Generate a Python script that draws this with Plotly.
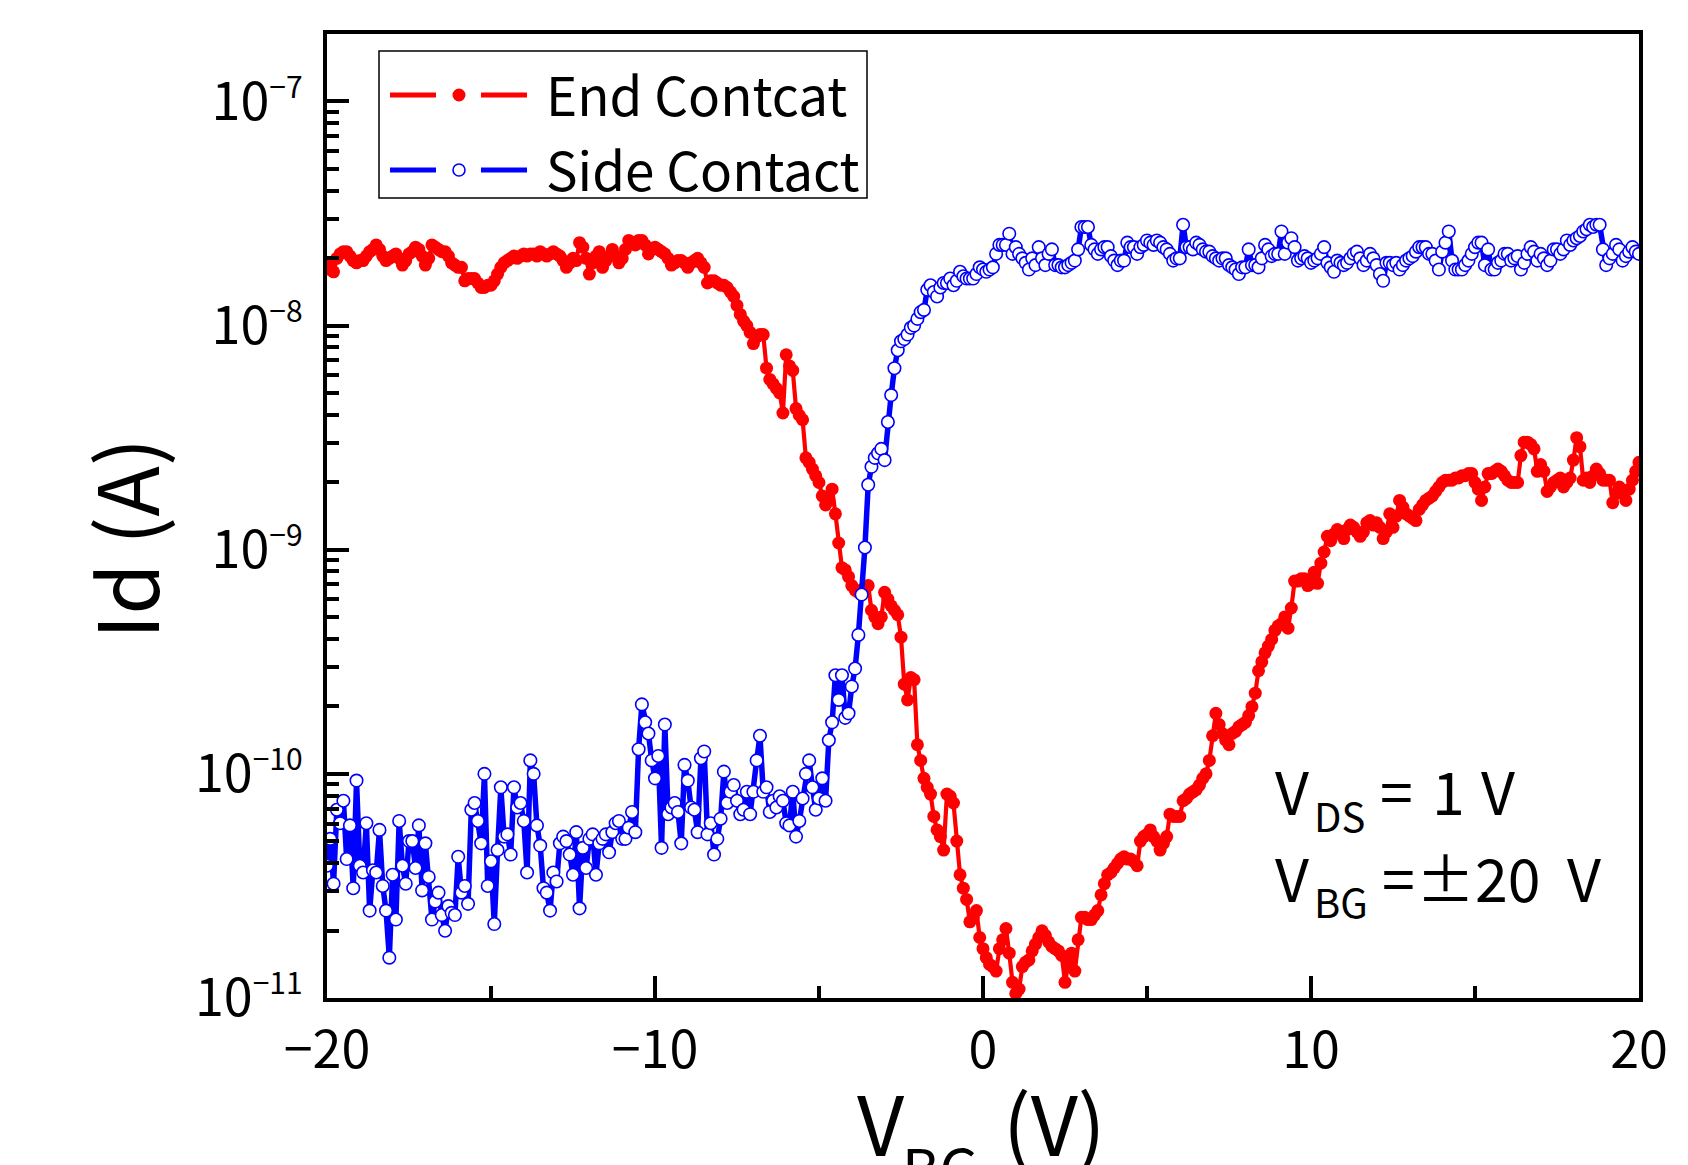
import numpy as np
import plotly.graph_objects as go

# Gate voltage sweep (V), 0.1 V step
vbg = np.round(np.linspace(-20, 20, 401), 1)

# log10(Id / A), one row per volt
end_log10 = [
    -7.72, -7.75, -7.76, -7.70, -7.68, -7.67, -7.67, -7.69, -7.71, -7.72,
    -7.71, -7.71, -7.69, -7.67, -7.66, -7.64, -7.66, -7.69, -7.71, -7.70,
    -7.69, -7.68, -7.70, -7.73, -7.71, -7.68, -7.67, -7.65, -7.66, -7.69,
    -7.73, -7.70, -7.64, -7.65, -7.66, -7.67, -7.67, -7.69, -7.72, -7.73,
    -7.74, -7.74, -7.80, -7.79, -7.79, -7.79, -7.81, -7.83, -7.83, -7.82,
    -7.82, -7.80, -7.77, -7.74, -7.72, -7.71, -7.70, -7.69, -7.70, -7.69,
    -7.68, -7.69, -7.68, -7.68, -7.69, -7.67, -7.68, -7.69, -7.68, -7.67,
    -7.68, -7.69, -7.71, -7.74, -7.72, -7.70, -7.71, -7.63, -7.65, -7.70,
    -7.77, -7.72, -7.69, -7.67, -7.74, -7.71, -7.69, -7.66, -7.69, -7.72,
    -7.70, -7.66, -7.62, -7.63, -7.64, -7.62, -7.62, -7.64, -7.68, -7.66,
    -7.65, -7.66, -7.67, -7.68, -7.70, -7.73, -7.72, -7.71, -7.71, -7.72,
    -7.74, -7.72, -7.71, -7.70, -7.72, -7.74, -7.81, -7.80, -7.80, -7.81,
    -7.82, -7.82, -7.83, -7.85, -7.87, -7.91, -7.95, -7.98, -8.00, -8.03,
    -8.08, -8.05, -8.04, -8.04, -8.19, -8.24, -8.26, -8.28, -8.30, -8.39,
    -8.13, -8.18, -8.20, -8.37, -8.40, -8.42, -8.59, -8.61, -8.64, -8.67,
    -8.70, -8.76, -8.80, -8.78, -8.73, -8.84, -8.97, -9.08, -9.09, -9.12,
    -9.16, -9.18, -9.19, -9.18, -9.17, -9.16, -9.27, -9.30, -9.33, -9.30,
    -9.19, -9.22, -9.25, -9.27, -9.29, -9.39, -9.60, -9.67, -9.57, -9.58,
    -9.87, -9.94, -10.02, -10.06, -10.09, -10.19, -10.25, -10.28, -10.34, -10.09,
    -10.10, -10.13, -10.30, -10.45, -10.51, -10.56, -10.66, -10.64, -10.61, -10.73,
    -10.78, -10.82, -10.85, -10.86, -10.88, -10.78, -10.74, -10.69, -10.80, -10.93,
    -10.98, -10.96, -10.86, -10.84, -10.83, -10.79, -10.76, -10.73, -10.70, -10.72,
    -10.75, -10.77, -10.78, -10.79, -10.81, -10.93, -10.85, -10.80, -10.88, -10.74,
    -10.64, -10.64, -10.65, -10.65, -10.63, -10.61, -10.54, -10.49, -10.45, -10.44,
    -10.42, -10.40, -10.38, -10.37, -10.38, -10.38, -10.39, -10.41, -10.30, -10.28,
    -10.27, -10.25, -10.28, -10.30, -10.34, -10.31, -10.28, -10.18, -10.19, -10.19,
    -10.19, -10.12, -10.11, -10.09, -10.08, -10.07, -10.05, -10.02, -10.00, -9.94,
    -9.83, -9.73, -9.78, -9.82, -9.85, -9.87, -9.82, -9.81, -9.79, -9.78,
    -9.77, -9.74, -9.70, -9.64, -9.54, -9.50, -9.46, -9.43, -9.40, -9.36,
    -9.34, -9.33, -9.30, -9.35, -9.26, -9.14, -9.14, -9.13, -9.13, -9.16,
    -9.15, -9.10, -9.15, -9.06, -9.01, -8.94, -8.96, -8.93, -8.91, -8.92,
    -8.95, -8.91, -8.89, -8.90, -8.92, -8.94, -8.92, -8.88, -8.87, -8.89,
    -8.88, -8.90, -8.95, -8.92, -8.84, -8.90, -8.85, -8.78, -8.81, -8.84,
    -8.85, -8.86, -8.87, -8.82, -8.80, -8.78, -8.77, -8.76, -8.74, -8.72,
    -8.70, -8.69, -8.69, -8.69, -8.68, -8.68, -8.67, -8.67, -8.66, -8.66,
    -8.70, -8.73, -8.78, -8.72, -8.66, -8.66, -8.65, -8.64, -8.65, -8.67,
    -8.69, -8.70, -8.70, -8.70, -8.58, -8.52, -8.52, -8.53, -8.55, -8.65,
    -8.62, -8.65, -8.74, -8.72, -8.70, -8.69, -8.68, -8.72, -8.70, -8.68,
    -8.60, -8.50, -8.54, -8.69, -8.68, -8.70, -8.67, -8.64, -8.66, -8.69,
    -8.69, -8.69, -8.79, -8.75, -8.72, -8.74, -8.78, -8.73, -8.69, -8.65,
    -8.61,
]

side_log10 = [
    -10.41, -10.29, -10.49, -10.16, -10.22, -10.12, -10.38, -10.23, -10.51, -10.03,
    -10.41, -10.44, -10.22, -10.61, -10.43, -10.44, -10.25, -10.50, -10.61, -10.82,
    -10.45, -10.65, -10.21, -10.41, -10.49, -10.30, -10.30, -10.42, -10.23, -10.52,
    -10.31, -10.46, -10.65, -10.57, -10.53, -10.63, -10.70, -10.59, -10.62, -10.63,
    -10.37, -10.53, -10.50, -10.58, -10.16, -10.13, -10.21, -10.31, -10.00, -10.50,
    -10.39, -10.67, -10.34, -10.06, -10.28, -10.27, -10.36, -10.06, -10.15, -10.13,
    -10.21, -10.44, -9.94, -10.00, -10.23, -10.32, -10.51, -10.53, -10.61, -10.44,
    -10.48, -10.31, -10.28, -10.30, -10.36, -10.45, -10.26, -10.60, -10.33, -10.42,
    -10.29, -10.27, -10.45, -10.31, -10.29, -10.27, -10.35, -10.26, -10.22, -10.21,
    -10.29, -10.29, -10.24, -10.17, -10.26, -9.89, -9.69, -9.77, -9.82, -9.94,
    -10.02, -9.92, -10.33, -9.78, -10.18, -10.15, -10.13, -10.17, -10.31, -9.96,
    -10.03, -10.15, -10.16, -10.26, -9.93, -9.90, -10.27, -10.22, -10.36, -10.29,
    -10.20, -9.99, -10.13, -10.08, -10.05, -10.12, -10.18, -10.16, -10.08, -10.18,
    -10.08, -9.94, -9.83, -10.08, -10.06, -10.17, -10.12, -10.15, -10.10, -10.12,
    -10.22, -10.23, -10.08, -10.28, -10.21, -10.11, -10.00, -9.94, -10.06, -10.16,
    -10.11, -10.02, -10.12, -9.85, -9.77, -9.56, -9.67, -9.56, -9.75, -9.73,
    -9.61, -9.53, -9.38, -9.20, -8.99, -8.71, -8.63, -8.59, -8.57, -8.55,
    -8.60, -8.43, -8.31, -8.19, -8.11, -8.07, -8.06, -8.04, -8.01, -8.00,
    -7.97, -7.94, -7.93, -7.84, -7.82, -7.85, -7.87, -7.83, -7.81, -7.81,
    -7.79, -7.82, -7.80, -7.76, -7.78, -7.79, -7.79, -7.79, -7.77, -7.74,
    -7.75, -7.76, -7.75, -7.74, -7.68, -7.64, -7.64, -7.64, -7.59, -7.68,
    -7.65, -7.68, -7.70, -7.72, -7.75, -7.70, -7.73, -7.65, -7.70, -7.73,
    -7.68, -7.66, -7.73, -7.73, -7.74, -7.74, -7.73, -7.72, -7.71, -7.66,
    -7.56, -7.56, -7.56, -7.64, -7.66, -7.68, -7.66, -7.65, -7.65, -7.69,
    -7.71, -7.73, -7.71, -7.71, -7.63, -7.65, -7.65, -7.68, -7.65, -7.64,
    -7.62, -7.63, -7.64, -7.62, -7.63, -7.65, -7.66, -7.68, -7.71, -7.70,
    -7.70, -7.55, -7.65, -7.65, -7.66, -7.63, -7.64, -7.66, -7.67, -7.67,
    -7.69, -7.70, -7.71, -7.70, -7.70, -7.73, -7.74, -7.75, -7.77, -7.74,
    -7.74, -7.66, -7.73, -7.73, -7.74, -7.70, -7.64, -7.66, -7.69, -7.68,
    -7.68, -7.58, -7.68, -7.63, -7.61, -7.65, -7.71, -7.70, -7.69, -7.70,
    -7.72, -7.71, -7.70, -7.68, -7.65, -7.72, -7.74, -7.76, -7.71, -7.72,
    -7.73, -7.72, -7.70, -7.68, -7.67, -7.70, -7.73, -7.71, -7.68, -7.70,
    -7.73, -7.77, -7.80, -7.72, -7.72, -7.73, -7.72, -7.75, -7.73, -7.71,
    -7.70, -7.69, -7.67, -7.65, -7.65, -7.65, -7.68, -7.68, -7.71, -7.75,
    -7.67, -7.63, -7.58, -7.71, -7.75, -7.75, -7.75, -7.73, -7.71, -7.68,
    -7.65, -7.63, -7.63, -7.73, -7.66, -7.75, -7.75, -7.72, -7.71, -7.68,
    -7.68, -7.71, -7.70, -7.69, -7.75, -7.72, -7.68, -7.65, -7.67, -7.71,
    -7.68, -7.70, -7.73, -7.71, -7.66, -7.66, -7.68, -7.66, -7.62, -7.64,
    -7.62, -7.61, -7.60, -7.58, -7.57, -7.55, -7.56, -7.55, -7.55, -7.66,
    -7.73, -7.70, -7.68, -7.64, -7.66, -7.71, -7.69, -7.67, -7.65, -7.67,
    -7.68,
]

# y tick positions (decades) and their labels
ytick_vals = [1e-11, 1e-10, 1e-9, 1e-8, 1e-7]
ytick_exps = ["−11", "−10", "−9", "−8", "−7"]
series_names = ["End Contcat", "Side Contact"]

assert len(end_log10) == len(vbg), len(end_log10)
assert len(side_log10) == len(vbg), len(side_log10)

end_id = [10 ** v for v in end_log10]
side_id = [10 ** v for v in side_log10]

RED, BLUE = "#ff0000", "#0000ff"
FONT = "Noto Sans CJK JP, Noto Sans, sans-serif"

fig = go.Figure()
fig.add_trace(go.Scatter(
    x=vbg, y=end_id, name=series_names[0], mode="lines+markers", showlegend=False,
    line=dict(color=RED, width=4.2),
    marker=dict(symbol="circle", size=13, color=RED, line=dict(width=0)),
))
fig.add_trace(go.Scatter(
    x=vbg, y=side_id, name=series_names[1], mode="lines+markers", showlegend=False,
    line=dict(color=BLUE, width=5.5),
    marker=dict(symbol="circle", size=12.5, color="white",
                line=dict(color=BLUE, width=1.6)),
))

# page is offset by the 8px body margin
W, H = 1688, 1165
PX0, PX1, PY0, PY1 = 327, 1639, 34, 998   # plot area on screen
OFF = 8
L, T = PX0 - OFF, PY0 - OFF
R, B = W - L - (PX1 - PX0), H - T - (PY1 - PY0)

def px(xpix):
    return (xpix - PX0) / (PX1 - PX0)

def py(ypix):
    return (PY1 - ypix) / (PY1 - PY0)

fig.update_layout(
    width=W, height=H,
    margin=dict(l=L, r=R, t=T, b=B, autoexpand=False),
    paper_bgcolor="white", plot_bgcolor="white",
    font=dict(family=FONT, color="black", size=52),
    showlegend=False,
)

fig.update_xaxes(
    range=[-20, 20], tick0=-20, dtick=10,
    showgrid=False, zeroline=False,
    showline=True, linecolor="black", linewidth=4, mirror=True,
    ticks="inside", ticklen=22, tickwidth=3.5, tickcolor="black",
    minor=dict(ticks="inside", dtick=5, ticklen=12, tickwidth=3.5, tickcolor="black"),
    tickfont=dict(family=FONT, size=52, color="black"),
    ticklabelstandoff=4,
)
fig.update_yaxes(
    type="log", range=[-11, np.log10(2e-7)],
    tickvals=ytick_vals,
    ticktext=["10<sup><span style='font-size:30px'>%s</span></sup>" % e for e in ytick_exps],
    showgrid=False, zeroline=False,
    showline=True, linecolor="black", linewidth=4, mirror=True,
    ticks="inside", ticklen=22, tickwidth=3.5, tickcolor="black",
    minor=dict(ticks="inside", dtick="D1", ticklen=12, tickwidth=3.5, tickcolor="black"),
    tickfont=dict(family=FONT, size=52, color="black"),
    ticklabelstandoff=10,
)

# ---- legend drawn as a boxed key (box, dashes, symbol, label)
leg_box = dict(x0=379, x1=867, y0=51, y1=198)
leg_rows = [
    dict(name=series_names[0], y=95, color=RED, fill=RED, d=13, lw=0),
    dict(name=series_names[1], y=170, color=BLUE, fill="white", d=12, lw=1.6),
]
shapes = [dict(type="rect", xref="paper", yref="paper",
               x0=px(leg_box["x0"]), x1=px(leg_box["x1"]),
               y0=py(leg_box["y1"]), y1=py(leg_box["y0"]),
               line=dict(color="black", width=1.5), fillcolor="white", layer="above")]
annotations = []
for row in leg_rows:
    for (a, b) in [(390, 436), (481, 527)]:
        shapes.append(dict(type="line", xref="paper", yref="paper",
                           x0=px(a), x1=px(b), y0=py(row["y"]), y1=py(row["y"]),
                           line=dict(color=row["color"], width=5), layer="above"))
    r = row["d"] / 2
    shapes.append(dict(type="circle", xref="paper", yref="paper",
                       x0=px(459 - r), x1=px(459 + r), y0=py(row["y"] + r), y1=py(row["y"] - r),
                       fillcolor=row["fill"],
                       line=dict(color=row["color"], width=row["lw"]), layer="above"))
    annotations.append(dict(text=row["name"], x=px(544), y=py(row["y"] - 2),
                            xanchor="left", font=dict(family=FONT, size=53, color="black")))

# ---- axis titles
annotations += [
    dict(text="Id (A)", x=px(123), y=py(539), textangle=-90,
         font=dict(family=FONT, size=83, color="black")),
    dict(text="V", x=px(855), y=py(1120), xanchor="left",
         font=dict(family=FONT, size=82, color="black")),
    dict(text="BG", x=px(900), y=py(1166), xanchor="left",
         font=dict(family=FONT, size=57, color="black")),
    dict(text="(V)", x=px(1001), y=py(1120), xanchor="left",
         font=dict(family=FONT, size=82, color="black")),
]

# ---- measurement conditions
F1, F2 = 59, 40
cond = [
    ("V", 1273, 789, F1), ("DS", 1312, 815, F2), ("=", 1378, 789, F1),
    ("1", 1430, 789, F1), ("V", 1479, 789, F1),
    ("V", 1273, 876, F1), ("BG", 1312, 901, F2), ("=", 1380, 876, F1),
    ("±20", 1414, 876, F1), ("V", 1565, 876, F1),
]
for txt, xp, yp, fs in cond:
    annotations.append(dict(text=txt, x=px(xp), y=py(yp), xanchor="left",
                            font=dict(family=FONT, size=fs, color="black")))

for a in annotations:
    a.setdefault("xanchor", "center")
    a.setdefault("yanchor", "middle")
    fig.add_annotation(xref="paper", yref="paper", showarrow=False, **a)

fig.update_layout(shapes=shapes)
fig.write_html("out.html")
